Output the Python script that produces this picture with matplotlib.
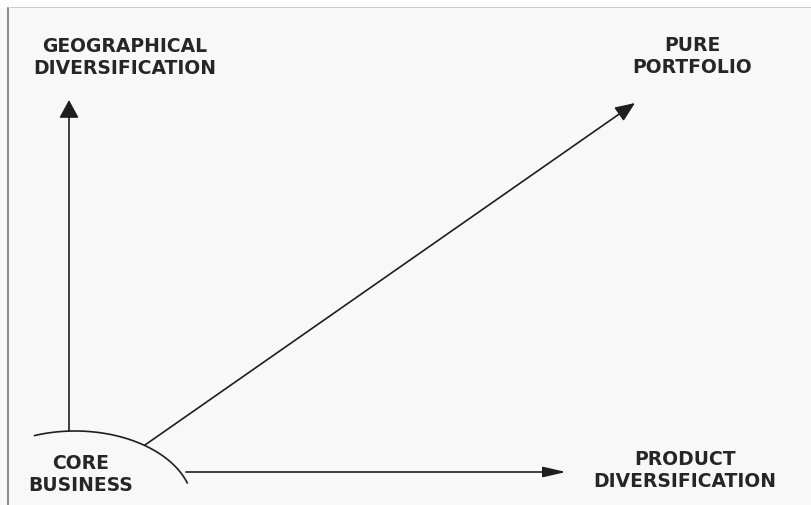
# 多元化方向示意图：核心业务 -> 地理 / 产品 / 纯组合

import numpy as np
import matplotlib.pyplot as plt

plt.rcParams["font.family"] = ["DejaVu Sans"]

# 文字标签
labels = ["GEOGRAPHICAL\nDIVERSIFICATION", "PURE\nPORTFOLIO",
          "CORE\nBUSINESS", "PRODUCT\nDIVERSIFICATION"]
label_x = [125, 692, 81, 685]
label_y = [57, 56, 475, 471]

# 核心业务半圆（椭圆弧）
core_center = (75, 507)
core_a, core_b = 118, 75
core_t = np.radians(np.linspace(-110, -18, 60))

# 三个箭头：起点 / 终点（像素坐标，y 向下）
arrow_start = [(69, 432), (145, 446), (186, 473)]
arrow_end = [(69, 101), (635, 104), (566, 473)]
arrow_heads = ["-|>,head_length=0.55,head_width=0.3",
               "-|>,head_length=0.6,head_width=0.25",
               "-|>,head_length=0.7,head_width=0.16"]

fig = plt.figure(figsize=(8.11, 5.06), dpi=100, facecolor="#f8f8f8")
ax = fig.add_axes([0, 0, 1, 1])
ax.set_xlim(0, 811)
ax.set_ylim(506, 0)
ax.axis("off")

# 扫描件边框
ax.axhspan(0, 8, color="white", zorder=0)
ax.plot([8, 8], [9, 506], color="#777777", lw=1.2)
ax.plot([10, 811], [8, 8], color="#cccccc", lw=0.8)

ink = "#1e1e1e"
ax.plot(core_center[0] + core_a * np.cos(core_t),
        core_center[1] + core_b * np.sin(core_t), color=ink, lw=1.2)

for s, e, h in zip(arrow_start, arrow_end, arrow_heads):
    ax.annotate("", xy=e, xytext=s,
                arrowprops=dict(arrowstyle=h, mutation_scale=20, color=ink,
                                lw=1.2, shrinkA=0, shrinkB=0))

for t, x, y in zip(labels, label_x, label_y):
    ax.text(x, y, t, ha="center", va="center", fontsize=13.5,
            fontweight="bold", color="#262626", linespacing=1.2)

plt.savefig("out.png", dpi=100, facecolor=fig.get_facecolor())
